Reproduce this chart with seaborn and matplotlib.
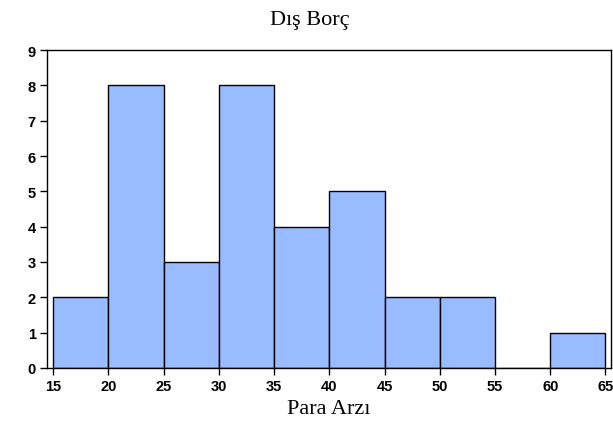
import matplotlib
matplotlib.use("Agg")
import matplotlib.pyplot as plt
import seaborn as sns
import numpy as np
import pandas as pd

bin_edges = [15, 20, 25, 30, 35, 40, 45, 50, 55, 60, 65]
counts = [2, 8, 3, 8, 4, 5, 2, 2, 0, 1]
x_ticks = [15, 20, 25, 30, 35, 40, 45, 50, 55, 60, 65]
y_ticks = [0, 1, 2, 3, 4, 5, 6, 7, 8, 9]
title = "Dış Borç"
xlabel = "Para Arzı"

centers = [(a + b) / 2 for a, b in zip(bin_edges[:-1], bin_edges[1:])]
df = pd.DataFrame({"x": centers, "w": counts})

sns.set_style("white")
plt.rcParams["text.color"] = "black"
plt.rcParams["axes.labelcolor"] = "black"
fig = plt.figure(figsize=(6.13, 4.39), dpi=100)
ax = fig.add_axes([0.0767, 0.1595, 0.92, 0.7243])
sns.histplot(data=df, x="x", weights="w", bins=bin_edges, ax=ax,
             color="#99BBFF", alpha=1.0, edgecolor="black", linewidth=1.0)

ax.set_xlim(14.45, 65.5)
ax.set_ylim(0, 9)
ax.set_xticks(x_ticks)
ax.set_yticks(y_ticks)
for s in ax.spines.values():
    s.set_visible(True)
    s.set_color("black")
    s.set_linewidth(1.0)
ax.tick_params(axis="both", direction="out", length=5, width=1, colors="black",
               bottom=True, left=True, pad=3)
ax.set_xticklabels([str(t) for t in x_ticks], fontsize=10.5, fontweight="heavy",
                   family="Liberation Sans")
ax.set_yticklabels([str(t) for t in y_ticks], fontsize=10.5, fontweight="heavy",
                   family="Liberation Sans")
ax.set_ylabel("")
ax.set_xlabel(xlabel, family="Liberation Serif", fontsize=16, labelpad=4, color="black")
fig.text(0.505, 0.953, title, family="Liberation Serif", fontsize=16,
         ha="center", va="center", color="black")
fig.savefig("out.png", dpi=100)
